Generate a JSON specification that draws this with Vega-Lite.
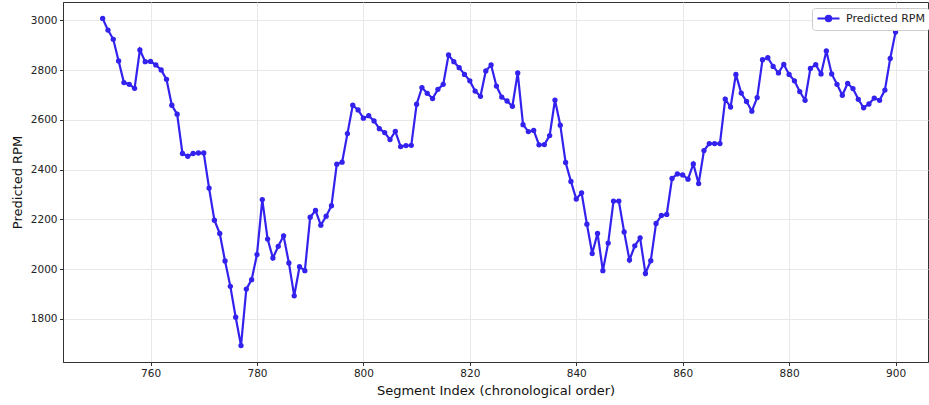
{
  "$schema": "https://vega.github.io/schema/vega-lite/v6.json",
  "width": 865,
  "height": 360,
  "autosize": {"type": "none"},
  "padding": {"left": 63, "top": 2, "right": 1, "bottom": 43},
  "background": "white",
  "config": {
    "view": {"stroke": "#333333", "strokeWidth": 1},
    "font": "DejaVu Sans",
    "axis": {
      "labelFont": "DejaVu Sans",
      "labelFontSize": 10.5,
      "labelColor": "#222222",
      "titleFont": "DejaVu Sans",
      "titleFontSize": 13,
      "titleFontWeight": "normal",
      "titleColor": "#111111",
      "domainColor": "#333333",
      "tickColor": "#333333",
      "tickSize": 3.5,
      "gridColor": "#e8e8e8",
      "gridWidth": 1
    }
  },
  "data": {
    "values": [
      {"segment": 751, "rpm": 3008}, {"segment": 752, "rpm": 2961}, {"segment": 753, "rpm": 2924},
      {"segment": 754, "rpm": 2837}, {"segment": 755, "rpm": 2750}, {"segment": 756, "rpm": 2743},
      {"segment": 757, "rpm": 2727}, {"segment": 758, "rpm": 2881}, {"segment": 759, "rpm": 2834},
      {"segment": 760, "rpm": 2835}, {"segment": 761, "rpm": 2821}, {"segment": 762, "rpm": 2801},
      {"segment": 763, "rpm": 2763}, {"segment": 764, "rpm": 2659}, {"segment": 765, "rpm": 2623},
      {"segment": 766, "rpm": 2465}, {"segment": 767, "rpm": 2454}, {"segment": 768, "rpm": 2465},
      {"segment": 769, "rpm": 2467}, {"segment": 770, "rpm": 2467}, {"segment": 771, "rpm": 2326},
      {"segment": 772, "rpm": 2197}, {"segment": 773, "rpm": 2144}, {"segment": 774, "rpm": 2033},
      {"segment": 775, "rpm": 1931}, {"segment": 776, "rpm": 1807}, {"segment": 777, "rpm": 1693},
      {"segment": 778, "rpm": 1920}, {"segment": 779, "rpm": 1958}, {"segment": 780, "rpm": 2059},
      {"segment": 781, "rpm": 2280}, {"segment": 782, "rpm": 2121}, {"segment": 783, "rpm": 2045},
      {"segment": 784, "rpm": 2092}, {"segment": 785, "rpm": 2134}, {"segment": 786, "rpm": 2025},
      {"segment": 787, "rpm": 1893}, {"segment": 788, "rpm": 2010}, {"segment": 789, "rpm": 1994},
      {"segment": 790, "rpm": 2209}, {"segment": 791, "rpm": 2236}, {"segment": 792, "rpm": 2177},
      {"segment": 793, "rpm": 2213}, {"segment": 794, "rpm": 2255}, {"segment": 795, "rpm": 2422},
      {"segment": 796, "rpm": 2430}, {"segment": 797, "rpm": 2545}, {"segment": 798, "rpm": 2659},
      {"segment": 799, "rpm": 2640}, {"segment": 800, "rpm": 2607}, {"segment": 801, "rpm": 2617},
      {"segment": 802, "rpm": 2596}, {"segment": 803, "rpm": 2565}, {"segment": 804, "rpm": 2549},
      {"segment": 805, "rpm": 2521}, {"segment": 806, "rpm": 2554}, {"segment": 807, "rpm": 2493},
      {"segment": 808, "rpm": 2497}, {"segment": 809, "rpm": 2498}, {"segment": 810, "rpm": 2663},
      {"segment": 811, "rpm": 2730}, {"segment": 812, "rpm": 2707}, {"segment": 813, "rpm": 2686},
      {"segment": 814, "rpm": 2723}, {"segment": 815, "rpm": 2743}, {"segment": 816, "rpm": 2861},
      {"segment": 817, "rpm": 2834}, {"segment": 818, "rpm": 2810}, {"segment": 819, "rpm": 2783},
      {"segment": 820, "rpm": 2757}, {"segment": 821, "rpm": 2716}, {"segment": 822, "rpm": 2695},
      {"segment": 823, "rpm": 2797}, {"segment": 824, "rpm": 2821}, {"segment": 825, "rpm": 2736},
      {"segment": 826, "rpm": 2692}, {"segment": 827, "rpm": 2676}, {"segment": 828, "rpm": 2655},
      {"segment": 829, "rpm": 2789}, {"segment": 830, "rpm": 2581}, {"segment": 831, "rpm": 2553},
      {"segment": 832, "rpm": 2558}, {"segment": 833, "rpm": 2500}, {"segment": 834, "rpm": 2501},
      {"segment": 835, "rpm": 2537}, {"segment": 836, "rpm": 2680}, {"segment": 837, "rpm": 2579},
      {"segment": 838, "rpm": 2429}, {"segment": 839, "rpm": 2353}, {"segment": 840, "rpm": 2282},
      {"segment": 841, "rpm": 2307}, {"segment": 842, "rpm": 2181}, {"segment": 843, "rpm": 2063},
      {"segment": 844, "rpm": 2144}, {"segment": 845, "rpm": 1994}, {"segment": 846, "rpm": 2105},
      {"segment": 847, "rpm": 2274}, {"segment": 848, "rpm": 2274}, {"segment": 849, "rpm": 2150},
      {"segment": 850, "rpm": 2037}, {"segment": 851, "rpm": 2094}, {"segment": 852, "rpm": 2126},
      {"segment": 853, "rpm": 1983}, {"segment": 854, "rpm": 2034}, {"segment": 855, "rpm": 2184},
      {"segment": 856, "rpm": 2216}, {"segment": 857, "rpm": 2220}, {"segment": 858, "rpm": 2365},
      {"segment": 859, "rpm": 2383}, {"segment": 860, "rpm": 2379}, {"segment": 861, "rpm": 2362},
      {"segment": 862, "rpm": 2423}, {"segment": 863, "rpm": 2344}, {"segment": 864, "rpm": 2477},
      {"segment": 865, "rpm": 2505}, {"segment": 866, "rpm": 2505}, {"segment": 867, "rpm": 2505},
      {"segment": 868, "rpm": 2684}, {"segment": 869, "rpm": 2652}, {"segment": 870, "rpm": 2783},
      {"segment": 871, "rpm": 2708}, {"segment": 872, "rpm": 2674}, {"segment": 873, "rpm": 2635},
      {"segment": 874, "rpm": 2690}, {"segment": 875, "rpm": 2842}, {"segment": 876, "rpm": 2850},
      {"segment": 877, "rpm": 2815}, {"segment": 878, "rpm": 2789}, {"segment": 879, "rpm": 2823},
      {"segment": 880, "rpm": 2783}, {"segment": 881, "rpm": 2757}, {"segment": 882, "rpm": 2714},
      {"segment": 883, "rpm": 2679}, {"segment": 884, "rpm": 2807}, {"segment": 885, "rpm": 2822},
      {"segment": 886, "rpm": 2785}, {"segment": 887, "rpm": 2877}, {"segment": 888, "rpm": 2785},
      {"segment": 889, "rpm": 2743}, {"segment": 890, "rpm": 2699}, {"segment": 891, "rpm": 2747},
      {"segment": 892, "rpm": 2726}, {"segment": 893, "rpm": 2683}, {"segment": 894, "rpm": 2649},
      {"segment": 895, "rpm": 2664}, {"segment": 896, "rpm": 2688}, {"segment": 897, "rpm": 2679},
      {"segment": 898, "rpm": 2720}, {"segment": 899, "rpm": 2847}, {"segment": 900, "rpm": 2953}
    ]
  },
  "mark": {
    "type": "line",
    "strokeWidth": 2.2,
    "point": {"filled": true, "size": 28, "opacity": 1},
    "clip": true
  },
  "encoding": {
    "x": {
      "field": "segment",
      "type": "quantitative",
      "title": "Segment Index (chronological order)",
      "scale": {"domain": [743.55, 906.1], "nice": false, "zero": false},
      "axis": {"values": [760, 780, 800, 820, 840, 860, 880, 900], "format": "d", "labelPadding": 3, "titlePadding": 5, "grid": true}
    },
    "y": {
      "field": "rpm",
      "type": "quantitative",
      "title": "Predicted RPM",
      "scale": {"domain": [1627, 3074], "nice": false, "zero": false},
      "axis": {"values": [1800, 2000, 2200, 2400, 2600, 2800, 3000], "format": "d", "labelPadding": 2.5, "titlePadding": 6, "grid": true}
    },
    "color": {
      "datum": "Predicted RPM",
      "type": "nominal",
      "scale": {"range": ["#3322ee"]},
      "legend": {
        "title": null,
        "orient": "none",
        "legendX": 749,
        "legendY": 6,
        "padding": 4,
        "rowPadding": 0,
        "fillColor": "white",
        "strokeColor": "#cccccc",
        "cornerRadius": 3,
        "labelFont": "DejaVu Sans",
        "labelFontSize": 11,
        "labelColor": "#222222",
        "symbolType": "M-2,0L2,0M0.5,0A0.5,0.5,0,1,1,-0.5,0A0.5,0.5,0,1,1,0.5,0Z",
        "symbolSize": 121,
        "symbolStrokeWidth": 2,
        "symbolFillColor": "#3322ee",
        "symbolOffset": 6,
        "labelOffset": 11
      }
    }
  }
}
